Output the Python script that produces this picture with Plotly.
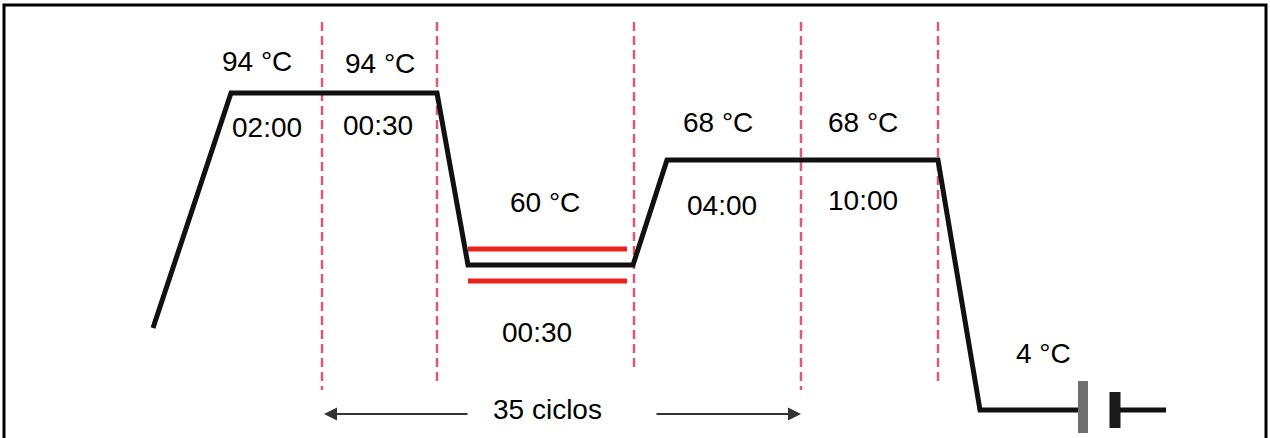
import plotly.graph_objects as go

# Schematic PCR thermal profile (drawing units: x = time axis, y = level, top = 0)
profile_x = [153, 231, 437, 468, 633, 667, 938, 980, 1083]
profile_y = [328, 93, 93, 265, 265, 160, 160, 410, 410]

end_x = [1120, 1166]
end_y = [410, 410]

red_x = [468, 627]
red_upper_y = [249, 249]
red_lower_y = [281, 281]

divider_x = [322, 437, 634, 801, 938]
divider_top = [22, 22, 22, 22, 22]
divider_bottom = [390, 386, 372, 390, 386]

label_text = ["94 °C", "94 °C", "02:00", "00:30", "60 °C", "00:30",
              "68 °C", "68 °C", "04:00", "10:00", "4 °C"]
label_x = [257, 380, 267, 378, 545, 537, 718, 863, 722, 863, 1043]
label_y = [61, 63, 127, 125, 202, 332, 122, 122, 205, 200, 353]

cycles_text = "35 ciclos"
cycles_x = 547
cycles_y = 409
arrow_left = [469, 324]
arrow_right = [655, 801]
arrow_y = 414

pause_gray_x = 1083
pause_gray_y = [381, 433]
pause_black_x = 1115
pause_black_y = [392, 428]

FONT = "Liberation Sans, Arial, sans-serif"

fig = go.Figure()

# dashed dividers
for x, t, b in zip(divider_x, divider_top, divider_bottom):
    fig.add_trace(go.Scatter(x=[x, x], y=[t, b], mode="lines",
                             line=dict(color="#dc5a78", width=2.5, dash="9px,5px"),
                             hoverinfo="skip", showlegend=False))

# red lines around annealing step
fig.add_trace(go.Scatter(x=red_x, y=red_upper_y, mode="lines",
                         line=dict(color="#e8221e", width=5), showlegend=False))
fig.add_trace(go.Scatter(x=red_x, y=red_lower_y, mode="lines",
                         line=dict(color="#e8221e", width=5), showlegend=False))

# main profile
fig.add_trace(go.Scatter(x=profile_x, y=profile_y, mode="lines",
                         line=dict(color="#111111", width=5), showlegend=False))
fig.add_trace(go.Scatter(x=end_x, y=end_y, mode="lines",
                         line=dict(color="#111111", width=5), showlegend=False))

# pause / hold symbol
fig.add_trace(go.Scatter(x=[pause_gray_x, pause_gray_x], y=pause_gray_y, mode="lines",
                         line=dict(color="#6f6f6f", width=10), showlegend=False))
fig.add_trace(go.Scatter(x=[pause_black_x, pause_black_x], y=pause_black_y, mode="lines",
                         line=dict(color="#1a1a1a", width=11), showlegend=False))

annotations = []
for t, x, y in zip(label_text, label_x, label_y):
    annotations.append(dict(x=x, y=y, xref="x", yref="y", text=t, showarrow=False,
                            font=dict(family=FONT, size=28, color="#000"),
                            xanchor="center", yanchor="middle"))
annotations.append(dict(x=cycles_x, y=cycles_y, xref="x", yref="y", text=cycles_text,
                        showarrow=False, font=dict(family=FONT, size=28, color="#000"),
                        xanchor="center", yanchor="middle"))
annotations.append(dict(x=arrow_left[1], y=arrow_y, ax=arrow_left[0], ay=arrow_y,
                        xref="x", yref="y", axref="x", ayref="y", text="",
                        showarrow=True, arrowhead=2, arrowsize=1.3, arrowwidth=2,
                        arrowcolor="#333333"))
annotations.append(dict(x=arrow_right[1], y=arrow_y, ax=arrow_right[0], ay=arrow_y,
                        xref="x", yref="y", axref="x", ayref="y", text="",
                        showarrow=True, arrowhead=2, arrowsize=1.3, arrowwidth=2,
                        arrowcolor="#333333"))

fig.update_layout(
    width=1270, height=438,
    margin=dict(l=0, r=0, t=0, b=0),
    paper_bgcolor="white", plot_bgcolor="white",
    xaxis=dict(range=[0, 1270], visible=False, fixedrange=True),
    yaxis=dict(range=[438, 0], visible=False, fixedrange=True),
    annotations=annotations,
    shapes=[dict(type="rect", xref="paper", yref="paper",
                 x0=4 / 1270, x1=1266 / 1270, y0=-0.02, y1=1 - 5 / 438,
                 line=dict(color="#000", width=3))],
    showlegend=False,
)

fig.write_html("out.html", config={"displayModeBar": False},
               post_script="document.body.style.margin='0';document.body.style.overflow='hidden';")
